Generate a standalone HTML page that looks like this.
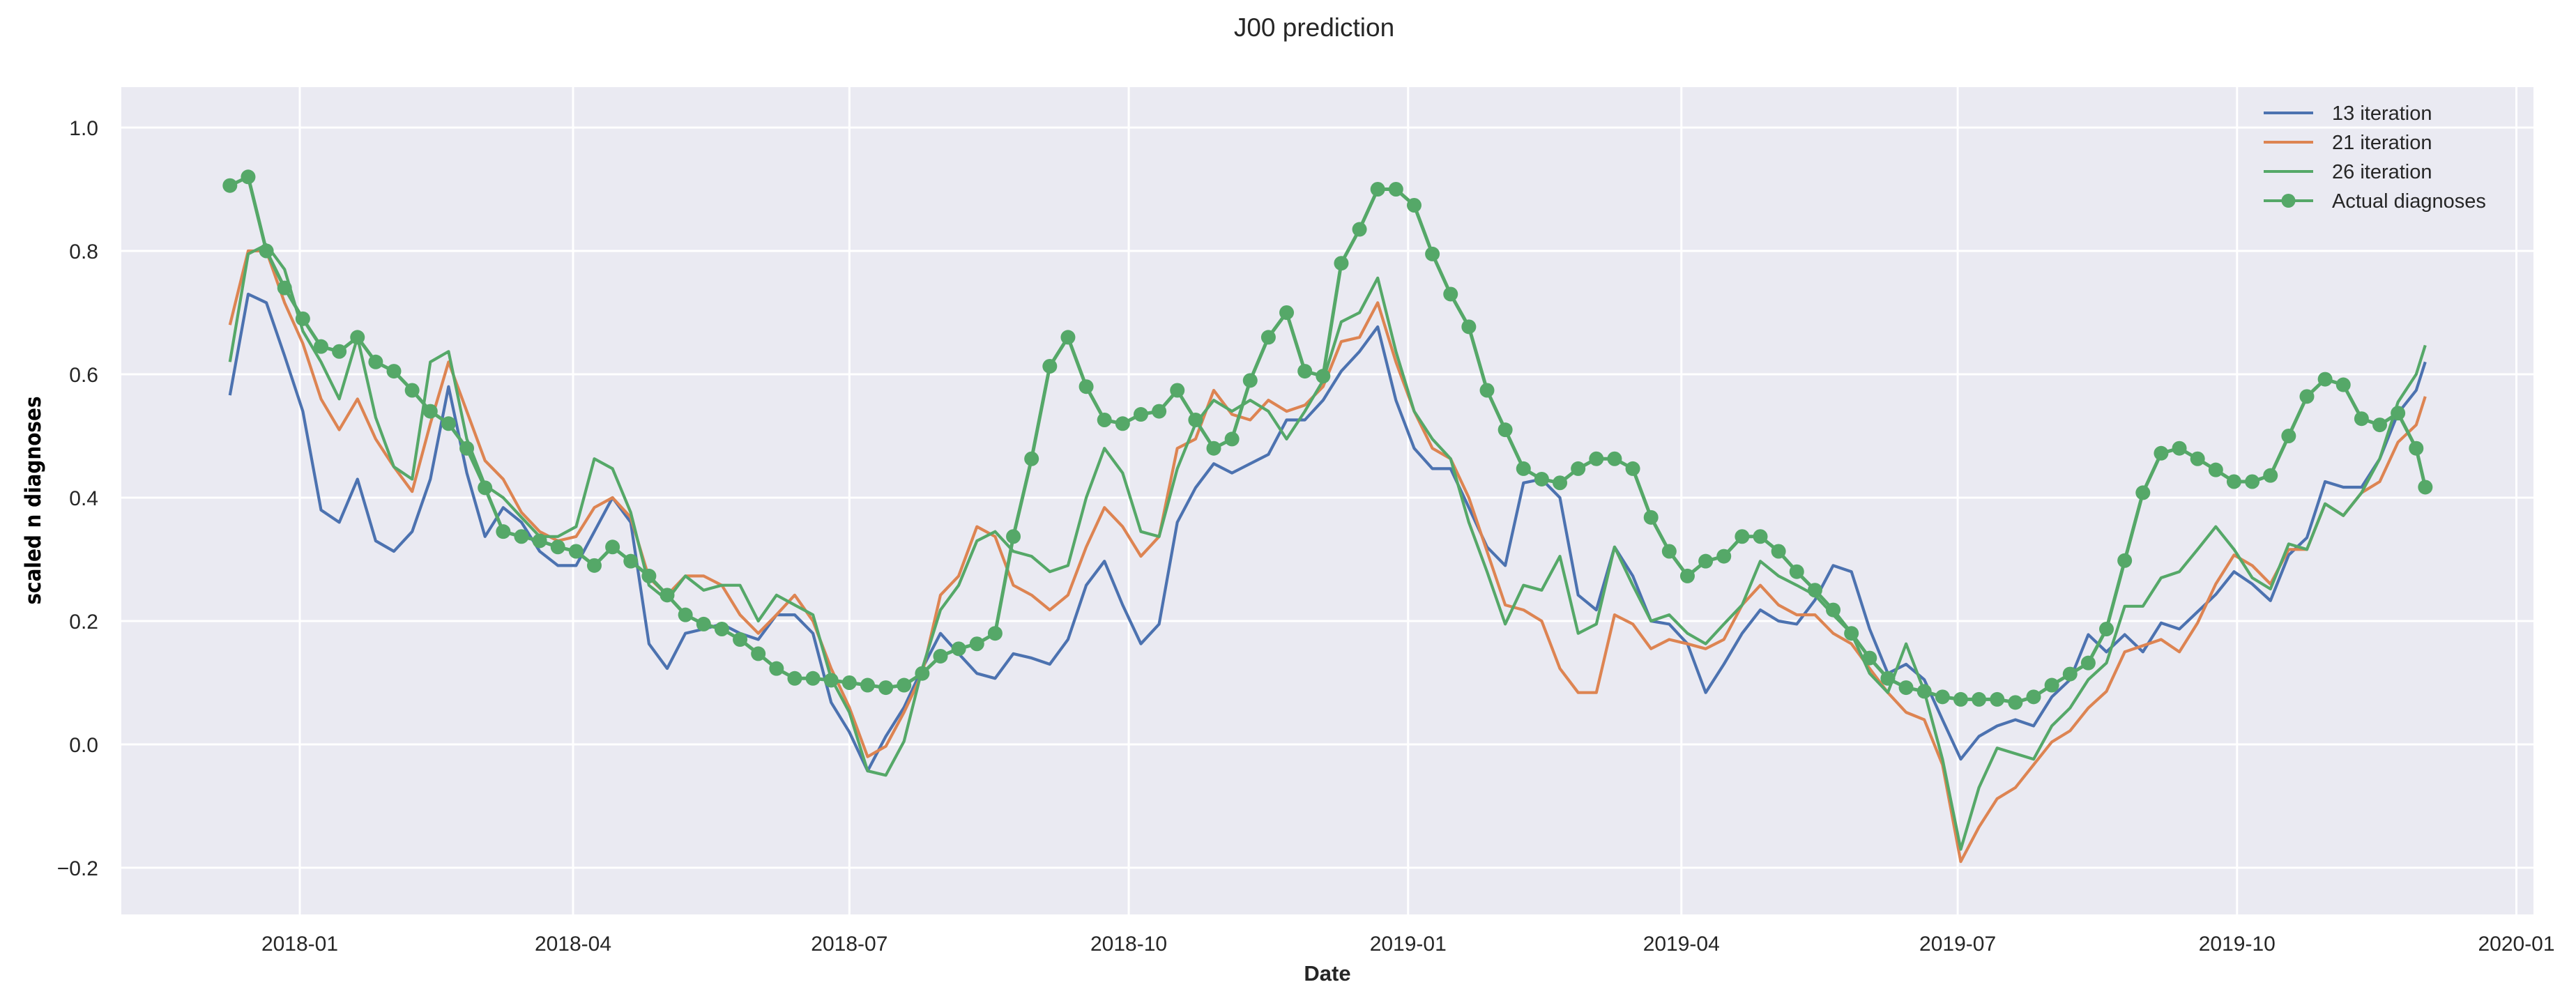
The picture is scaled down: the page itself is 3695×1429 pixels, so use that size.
<!DOCTYPE html>
<html><head><meta charset="utf-8"><style>
html,body{margin:0;padding:0;background:#fff;}
svg{display:block;font-family:"Liberation Sans",sans-serif;}
</style></head><body>
<svg id="chart" width="3695" height="1429" viewBox="0 0 3695 1429" xmlns="http://www.w3.org/2000/svg">
<rect x="0" y="0" width="3695" height="1429" fill="#fff"/>
<text x="1885" y="52" font-size="37" text-anchor="middle" fill="#262626">J00 prediction</text>
<rect x="174" y="125" width="3460" height="1187" fill="#eaeaf2"/>
<g id="grid"></g>
<g id="xticks"></g>
<g id="yticks"></g>
<g id="series"></g>
<text transform="translate(58,718) rotate(-90)" font-size="31" font-weight="bold" text-anchor="middle" fill="#000" style="font-family:'DejaVu Sans Condensed','DejaVu Sans',sans-serif;font-stretch:condensed">scaled n diagnoses</text>
<text x="1904" y="1407" font-size="31" font-weight="bold" text-anchor="middle" fill="#262626">Date</text>
<g id="legend"></g>
</svg>
<script>
// days since 2018-01-01
const days = [-23,-17,-11,-5,1,7,13,19,25,31,37,43,49,55,61,67,73,79,85,91,97,103,109,115,121,127,133,139,145,151,157,163,169,175,181,187,193,199,205,211,217,223,229,235,241,247,253,259,265,271,277,283,289,295,301,307,313,319,325,331,337,343,349,355,361,367,373,379,385,391,397,403,409,415,421,427,433,439,445,451,457,463,469,475,481,487,493,499,505,511,517,523,529,535,541,547,553,559,565,571,577,583,589,595,601,607,613,619,625,631,637,643,649,655,661,667,673,679,685,691,697,700];
const iter13 = [0.566,0.73,0.716,0.63,0.54,0.38,0.36,0.43,0.33,0.313,0.345,0.43,0.58,0.44,0.337,0.384,0.36,0.313,0.29,0.29,0.345,0.40,0.36,0.163,0.123,0.18,0.187,0.195,0.18,0.17,0.21,0.21,0.18,0.068,0.02,-0.043,0.013,0.06,0.123,0.18,0.147,0.115,0.107,0.147,0.14,0.13,0.17,0.258,0.297,0.226,0.163,0.195,0.36,0.416,0.455,0.44,0.455,0.47,0.526,0.526,0.558,0.605,0.637,0.677,0.558,0.48,0.447,0.447,0.384,0.32,0.29,0.424,0.43,0.40,0.242,0.218,0.32,0.273,0.20,0.195,0.163,0.084,0.13,0.18,0.218,0.20,0.195,0.234,0.29,0.28,0.187,0.115,0.13,0.105,0.04,-0.024,0.013,0.03,0.04,0.03,0.077,0.105,0.178,0.15,0.178,0.15,0.197,0.187,0.215,0.243,0.28,0.26,0.233,0.307,0.335,0.426,0.417,0.417,0.463,0.537,0.574,0.62];
const iter21 = [0.68,0.80,0.80,0.716,0.65,0.56,0.51,0.56,0.495,0.45,0.41,0.52,0.62,0.54,0.46,0.43,0.376,0.345,0.33,0.337,0.384,0.40,0.368,0.27,0.242,0.273,0.273,0.258,0.21,0.18,0.21,0.242,0.20,0.123,0.06,-0.02,-0.003,0.052,0.115,0.242,0.273,0.353,0.337,0.258,0.242,0.218,0.242,0.32,0.384,0.353,0.305,0.337,0.48,0.495,0.574,0.535,0.526,0.558,0.54,0.55,0.58,0.653,0.66,0.716,0.62,0.54,0.48,0.463,0.40,0.313,0.226,0.218,0.20,0.123,0.084,0.084,0.21,0.195,0.155,0.17,0.163,0.155,0.17,0.226,0.258,0.226,0.21,0.21,0.18,0.163,0.123,0.084,0.052,0.04,-0.033,-0.19,-0.134,-0.088,-0.07,-0.033,0.004,0.022,0.059,0.086,0.15,0.16,0.17,0.15,0.197,0.26,0.307,0.29,0.26,0.316,0.316,0.39,0.371,0.408,0.426,0.49,0.518,0.564];
const iter26 = [0.62,0.795,0.81,0.77,0.67,0.62,0.56,0.66,0.53,0.45,0.43,0.62,0.637,0.495,0.42,0.40,0.368,0.337,0.337,0.353,0.463,0.447,0.376,0.258,0.234,0.273,0.25,0.258,0.258,0.20,0.242,0.226,0.21,0.107,0.052,-0.043,-0.05,0.005,0.123,0.218,0.258,0.33,0.345,0.313,0.305,0.28,0.29,0.40,0.48,0.44,0.345,0.337,0.447,0.52,0.558,0.54,0.558,0.54,0.495,0.54,0.59,0.685,0.70,0.756,0.637,0.54,0.495,0.463,0.36,0.28,0.195,0.258,0.25,0.305,0.18,0.195,0.32,0.258,0.20,0.21,0.18,0.163,0.195,0.226,0.297,0.273,0.258,0.242,0.21,0.18,0.115,0.084,0.163,0.086,-0.024,-0.17,-0.07,-0.006,-0.015,-0.024,0.03,0.059,0.105,0.132,0.224,0.224,0.27,0.28,0.316,0.353,0.316,0.27,0.252,0.325,0.316,0.39,0.371,0.408,0.463,0.555,0.60,0.647];
const actual = [0.906,0.92,0.80,0.74,0.69,0.645,0.637,0.66,0.62,0.605,0.574,0.54,0.52,0.48,0.416,0.345,0.337,0.33,0.32,0.313,0.29,0.32,0.297,0.273,0.242,0.21,0.195,0.187,0.17,0.147,0.123,0.107,0.107,0.104,0.10,0.096,0.092,0.096,0.115,0.143,0.155,0.163,0.18,0.337,0.463,0.613,0.66,0.58,0.526,0.52,0.535,0.54,0.574,0.526,0.48,0.495,0.59,0.66,0.70,0.605,0.597,0.78,0.835,0.90,0.90,0.874,0.795,0.73,0.677,0.574,0.51,0.447,0.43,0.424,0.447,0.463,0.463,0.447,0.368,0.313,0.273,0.297,0.305,0.337,0.337,0.313,0.28,0.25,0.218,0.18,0.14,0.107,0.092,0.086,0.077,0.073,0.073,0.073,0.068,0.077,0.096,0.114,0.132,0.187,0.298,0.408,0.472,0.48,0.463,0.445,0.426,0.426,0.436,0.50,0.564,0.592,0.583,0.528,0.518,0.537,0.48,0.417];
const yTicks = [-0.2,0.0,0.2,0.4,0.6,0.8,1.0];
const yTickLabels = ["\u22120.2","0.0","0.2","0.4","0.6","0.8","1.0"];
const xTickDays = [0,90,181,273,365,455,546,638,730];
const xTickLabels = ["2018-01","2018-04","2018-07","2018-10","2019-01","2019-04","2019-07","2019-10","2020-01"];
const seriesNames = ["13 iteration","21 iteration","26 iteration","Actual diagnoses"];

const NS = "http://www.w3.org/2000/svg";
const X0 = 174, X1 = 3634, Y0 = 125, Y1 = 1312;
function xScale(d){ return 430 + d * 4.3555; }
function yScale(v){ return 1068 - v * 885; }
function mk(tag, attrs, parent){ const e = document.createElementNS(NS, tag); for (const k in attrs) e.setAttribute(k, attrs[k]); parent.appendChild(e); return e; }

const grid = document.getElementById('grid');
const xt = document.getElementById('xticks');
const yt = document.getElementById('yticks');
yTicks.forEach((v, i) => {
  const y = yScale(v);
  const l = mk('line', {x1: X0, x2: X1, y1: y, y2: y, stroke: '#fff', 'stroke-width': 3}, grid);
  
  
  const t = mk('text', {x: 141, y: y + 11, 'font-size': 30, 'text-anchor': 'end', fill: '#262626'}, yt);
  t.textContent = yTickLabels[i];
  
  
});
xTickDays.forEach((d, i) => {
  const x = xScale(d);
  const l = mk('line', {x1: x, x2: x, y1: Y0, y2: Y1, stroke: '#fff', 'stroke-width': 3}, grid);
  
  
  const t = mk('text', {x: x, y: 1364, 'font-size': 30, 'text-anchor': 'middle', fill: '#262626'}, xt);
  t.textContent = xTickLabels[i];
  
  
});

const sg = document.getElementById('series');
const colors = ['#4c72b0', '#dd8452', '#55a868', '#55a868'];
const allSeries = [iter13, iter21, iter26, actual];
const seriesIds = ['line-13-iteration', 'line-21-iteration', 'line-26-iteration', 'line-actual-diagnoses'];
allSeries.forEach((vals, s) => {
  const pts = vals.map((v, i) => xScale(days[i]).toFixed(1) + ',' + yScale(v).toFixed(1)).join(' ');
  const p = mk('polyline', {points: pts, fill: 'none', stroke: colors[s], 'stroke-width': s === 3 ? 5 : 4.2, 'stroke-linejoin': 'round'}, sg);
  
  
});
actual.forEach((v, i) => {
  const c = mk('circle', {cx: xScale(days[i]), cy: yScale(v), r: 10.5, fill: '#55a868'}, sg);
  
  
});

const lg = document.getElementById('legend');
const lys = [162, 204, 246, 288];
seriesNames.forEach((n, i) => {
  const l = mk('line', {x1: 3247, x2: 3318, y1: lys[i], y2: lys[i], stroke: colors[i], 'stroke-width': 4}, lg);
  
  
  if (i === 3) {
    const c = mk('circle', {cx: 3282.5, cy: lys[i], r: 10, fill: colors[i]}, lg);
    
    
  }
  const t = mk('text', {x: 3345, y: lys[i] + 10, 'font-size': 29, fill: '#262626'}, lg);
  t.textContent = n;
  
  
});
</script>
</body></html>
